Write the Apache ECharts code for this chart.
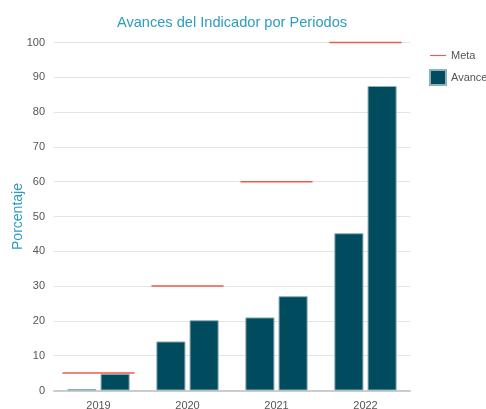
<!DOCTYPE html>
<html>
<head>
<meta charset="utf-8">
<script src="https://cdn.jsdelivr.net/npm/echarts@6/dist/echarts.min.js"></script>
<style>
  html, body { margin: 0; padding: 0; background: #fff; }
  #chart { width: 486px; height: 409px; }
</style>
</head>
<body>
<div id="chart"></div>
<script>
// datos del gráfico
const periodos = ['2019', '2020', '2021', '2022'];
const avance1 = [0.4, 14.1, 21, 45.2];
const avance2 = [4.8, 20.2, 27.1, 87.5];
const meta = [5, 30, 60, 100];

const chart = echarts.init(document.getElementById('chart'));

const barStyle = {
  color: '#004c5e',
  borderColor: '#8fb1ba',
  borderWidth: 1
};

chart.setOption({
  animation: false,
  textStyle: { fontFamily: 'Liberation Sans, Arial, sans-serif' },
  title: {
    text: 'Avances del Indicador por Periodos',
    left: 232,
    textAlign: 'center',
    top: 15,
    padding: 0,
    textStyle: { fontSize: 14.6, fontWeight: 'normal', color: '#2e9cc0' }
  },
  legend: {
    orient: 'vertical',
    left: 429,
    top: 50,
    padding: 0,
    itemWidth: 16,
    itemHeight: 15,
    itemGap: 8,
    textStyle: { fontSize: 11, color: '#555' },
    data: [
      { name: 'Meta', icon: 'path://M0,0 L20,0 L20,1.4 L0,1.4 Z', itemStyle: { color: '#ef5a4a' } },
      { name: 'Avance', icon: 'rect' }
    ]
  },
  grid: { left: 54, right: 76, top: 42.5, bottom: 18.5, outerBoundsMode: 'none' },
  xAxis: {
    type: 'category',
    data: periodos,
    axisTick: { show: false },
    axisLine: { lineStyle: { color: '#cccccc', width: 2 } },
    axisLabel: { color: '#555', fontSize: 11, margin: 10 }
  },
  yAxis: {
    type: 'value',
    min: 0,
    max: 100,
    interval: 10,
    name: 'Porcentaje',
    nameLocation: 'middle',
    nameGap: 29,
    nameMoveOverlap: false,
    nameTextStyle: { color: '#2e9cc0', fontSize: 14 },
    axisLine: { show: false },
    axisTick: { show: false },
    axisLabel: { color: '#555', fontSize: 11, margin: 9 },
    splitLine: { lineStyle: { color: '#e3e3e3' } }
  },
  series: [
    {
      name: 'Avance',
      type: 'bar',
      data: avance1,
      barCategoryGap: '30%',
      barGap: '14%',
      itemStyle: barStyle
    },
    {
      name: 'Avance',
      type: 'bar',
      data: avance2,
      itemStyle: barStyle
    },
    {
      name: 'Meta',
      type: 'custom',
      z: 10,
      itemStyle: { color: '#ef5a4a' },
      data: meta.map((v, i) => [i, v]),
      renderItem: function (params, api) {
        const p = api.coord([api.value(0), api.value(1)]);
        const w = api.size([1, 0])[0] * 0.81;
        return {
          type: 'line',
          shape: { x1: p[0] - w / 2, y1: p[1], x2: p[0] + w / 2, y2: p[1] },
          style: { stroke: '#ef5a4a', lineWidth: 1.5 }
        };
      }
    }
  ]
});
</script>
</body>
</html>
